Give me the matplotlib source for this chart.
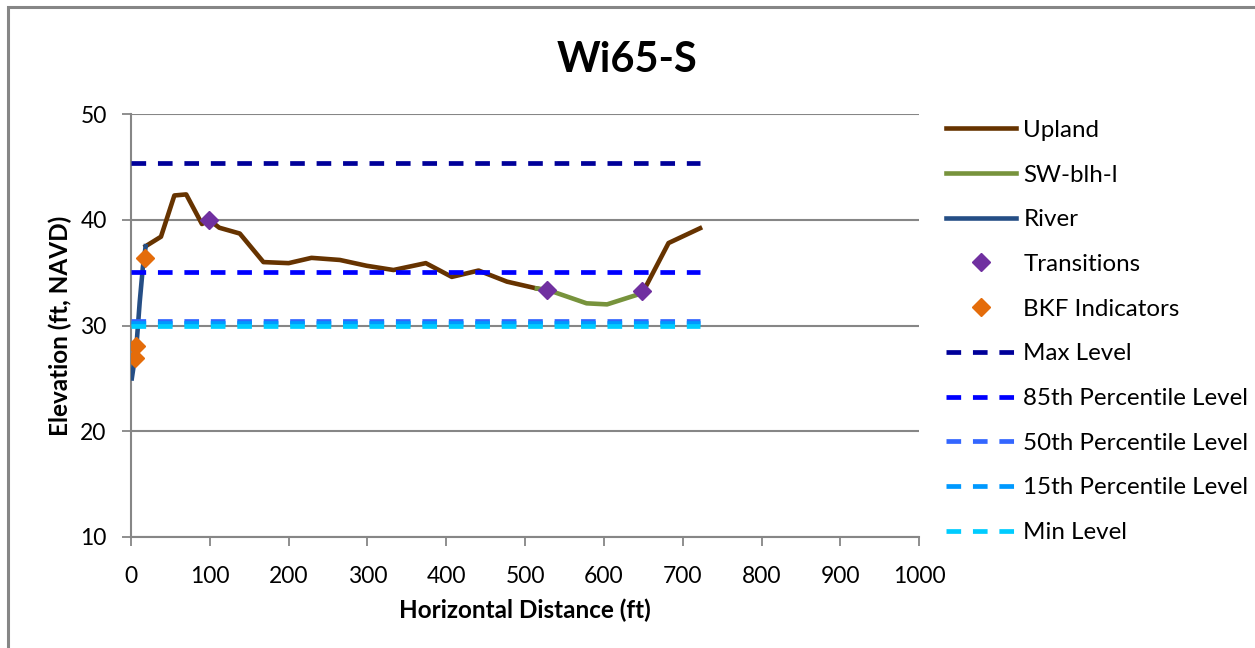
import matplotlib
matplotlib.use("Agg")
from matplotlib import pyplot as plt
from matplotlib.patches import Rectangle
import numpy as np

plt.rcParams['font.family'] = ['Lato', 'DejaVu Sans']

# cross-section profile (ft)
upland_x = [18.6, 38, 55, 70, 90, 99, 112, 138, 168, 200, 229, 265, 299, 333, 374, 407, 441, 477, 515,
            np.nan, 648, 654, 682, 722]
upland_y = [37.5, 38.4, 42.3, 42.4, 39.6, 40.0, 39.25, 38.7, 36.0, 35.9, 36.4, 36.2, 35.65, 35.25, 35.9, 34.6, 35.2, 34.15, 33.5,
            np.nan, 33.3, 33.8, 37.8, 39.2]
swblh_x = [515, 527.5, 578, 604, 644, 648]
swblh_y = [33.5, 33.4, 32.1, 32.0, 32.95, 33.3]
river_x = [1, 3, 5, 7, 11, 15, 18.6]
river_y = [25.0, 26.0, 27.0, 28.2, 32.2, 35.5, 37.5]
trans_x = [99, 527.5, 648]
trans_y = [40.0, 33.4, 33.3]
bkf_x = [5, 6.5, 18]
bkf_y = [26.9, 28.1, 36.35]

# water levels
level_names = ['Max Level', '85th Percentile Level', '50th Percentile Level', '15th Percentile Level', 'Min Level']
level_vals = [45.35, 35.05, 30.45, 30.2, 30.0]
level_colors = ['#000099', '#0000FF', '#3366FF', '#0099FF', '#00CCFF']
level_x = [0, 722]

fig = plt.figure(figsize=(12.55, 6.48), dpi=100)
ax = fig.add_axes([0.1044, 0.1713, 0.628, 0.6527])

fig.patches.append(Rectangle((0.0065, -0.05), 1.1, 1.039, transform=fig.transFigure,
                             fill=False, edgecolor='#868686', linewidth=2.2))

ax.plot(upland_x, upland_y, color='#663300', lw=3.3, label='Upland', zorder=3, solid_joinstyle='round')
ax.plot(swblh_x, swblh_y, color='#77933C', lw=3.3, label='SW-blh-l', zorder=3, solid_joinstyle='round')
ax.plot(river_x, river_y, color='#254E85', lw=3.3, label='River', zorder=3)
ax.plot(trans_x, trans_y, ls='none', marker='D', ms=9, color='#7030A0', label='Transitions', zorder=5)
ax.plot(bkf_x, bkf_y, ls='none', marker='D', ms=9, color='#E46C0A', label='BKF Indicators', zorder=5)
for name, v, c in zip(level_names, level_vals, level_colors):
    ax.plot(level_x, [v, v], color=c, lw=3.4, dashes=(3.1, 2.5), label=name, zorder=4)

ax.set_xlim(0, 1000)
ax.set_ylim(10, 50)
ax.set_xticks(np.arange(0, 1001, 100))
ax.set_yticks([10, 20, 30, 40, 50])
ax.yaxis.grid(True, color='#868686', lw=1.5)
ax.set_axisbelow(True)
for s in ['top', 'right']:
    ax.spines[s].set_visible(False)
for s in ['left', 'bottom']:
    ax.spines[s].set_color('#868686')
    ax.spines[s].set_linewidth(1.5)
ax.tick_params(direction='out', length=6.5, width=1.3, color='#868686', labelsize=16.5)
ax.tick_params(axis='x', pad=14.5)
ax.tick_params(axis='y', pad=11)

ax.set_xlabel('Horizontal Distance (ft)', fontsize=17.5, fontweight='bold', labelpad=8)
ax.set_ylabel('Elevation (ft, NAVD)', fontsize=17.5, fontweight='bold', labelpad=6)
fig.text(0.5, 0.907, 'Wi65-S', ha='center', va='center', fontsize=30, fontweight='bold')

fig.legend(loc='upper left', bbox_to_anchor=(0.7538, 0.815), frameon=False, fontsize=17.4,
           handlelength=2.9, handletextpad=0.3, labelspacing=0.98, borderpad=0, borderaxespad=0)

fig.savefig('out.png', dpi=100)
